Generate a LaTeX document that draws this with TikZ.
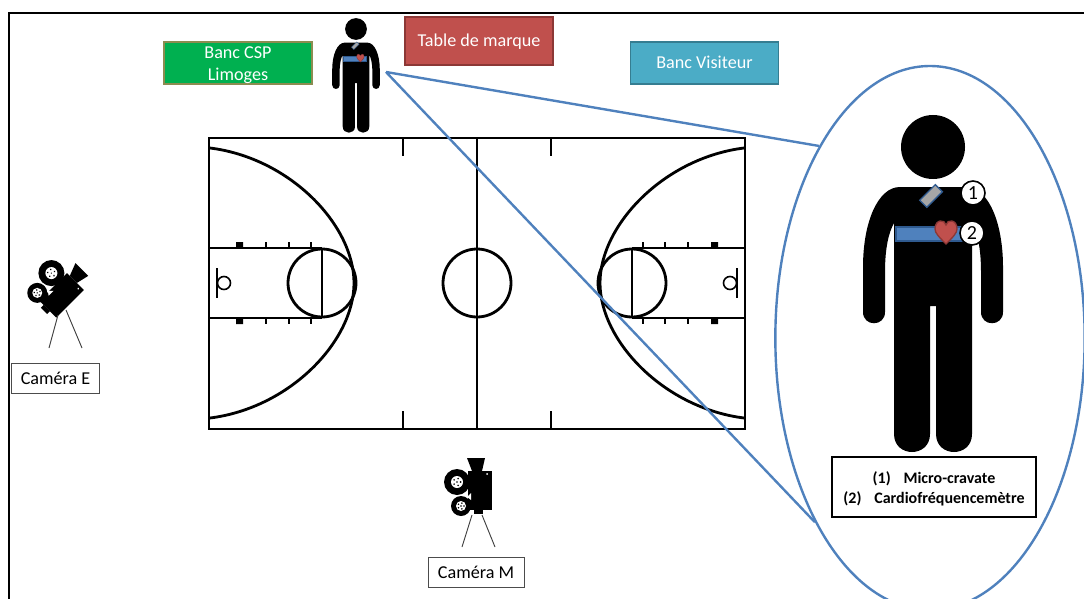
\documentclass[tikz,border=0pt]{standalone}
\usepackage{fontspec}
\setmainfont{Carlito}
\usetikzlibrary{shapes.geometric}
\definecolor{bleu}{HTML}{4F81BD}
\definecolor{bleufonce}{HTML}{2F5A8F}
\definecolor{rouge}{HTML}{C0504D}
\definecolor{rougefonce}{HTML}{8C3836}
\definecolor{vert}{HTML}{00B050}
\definecolor{olive}{HTML}{8C8C50}
\definecolor{turquoise}{HTML}{4BACC6}
\definecolor{turquoisefonce}{HTML}{357D91}
\tikzset{
  banc/.style = {draw, line width=1pt, inner ysep=0pt, minimum width=111pt, minimum height=31.5pt, align=center, text=white, font=\fontsize{13.6}{16.5}\selectfont},
  camlabel/.style = {draw=black!70, line width=.7pt, fill=white, minimum height=23pt, text height=9.5pt, text depth=1pt, font=\fontsize{13.6}{14}\selectfont},
  numero/.style = {draw, circle, fill=white, line width=1.2pt, inner sep=0pt, minimum size=18pt, font=\fontsize{15}{16}\selectfont},
  terrain/.style = {line width=2.1pt},
  tige/.style = {draw=black!75, line width=.7pt},
  loupeline/.style = {bleu, line width=1.8pt},
  personne/.pic = {
    \fill (0,0) circle (32);
    \fill (-33,40) .. controls (-55,40) and (-70,75) .. (-70,120) -- (-70,165)
      .. controls (-70,180) and (-48,180) .. (-48,165) -- (-48,125)
      .. controls (-48,100) and (-44,85) .. (-39,76) -- (-39,287)
      .. controls (-39,311) and (-3,311) .. (-3,287) -- (-3,159) -- (3,159) -- (3,287)
      .. controls (3,311) and (39,311) .. (39,287) -- (39,76)
      .. controls (44,85) and (48,100) .. (48,125) -- (48,165)
      .. controls (48,180) and (70,180) .. (70,165) -- (70,120)
      .. controls (70,75) and (55,40) .. (33,40) -- cycle;
    \filldraw[fill=bleu, draw=bleufonce] (-37,80) rectangle (30,94);
    \filldraw[fill=rouge, draw=rougefonce] (13,97) .. controls (6,90) and (2,86) .. (2,82)
      .. controls (2,72) and (12,72) .. (13,78) .. controls (14,72) and (24,72) .. (24,82)
      .. controls (24,86) and (20,90) .. (13,97) -- cycle;
    \filldraw[fill=black!35, draw=bleufonce, rotate around={45:(-2,49)}] (-13,44) rectangle (9,54);
  },
  camera/.pic = {
    \fill (-12,-19) rectangle (12,20);
    \fill (-13,-32) -- (5,-32) -- (2,-19) -- (-8,-19) -- cycle;
    \fill (-6,20) rectangle (3,24);
    \bobine{-23}{-8}{13}{6}
    \bobine{-19}{16}{10}{5}
    \fill[white] (-13,7) -- (-9,3) -- (-9,10) -- cycle;
    \fill[white] (7,-16) circle (1);
  },
}
\newcommand{\bobine}[4]{
  \fill (#1,#2) circle (#3);
  \fill[white] (#1,#2) circle (#4);
  \fill (#1,#2) circle (.8);
  \foreach \a in {0,72,...,288} \fill[shift={(#1,#2)}] (\a:#4*.6) circle (.9);
}
\begin{document}
\begin{tikzpicture}[x=.75pt,y=-.75pt]
\useasboundingbox (0,0) rectangle (1084,599);
\draw[line width=1.5pt] (9,599) -- (9,13) -- (1084,13);

% terrain
\draw[terrain] (209,138) rectangle (745,429);
\draw[terrain] (477,138) -- (477,429);
\draw[terrain] (477,283) circle (34);
\foreach \flip/\off in {1/0,-1/954} {
  \begin{scope}[cm={\flip,0,0,1,(\off,0)}]
    \draw[terrain] (210,148) .. controls (290,158) and (354,225) .. (354,283)
      .. controls (354,341) and (290,408) .. (210,418);
    \draw[terrain] (209,248) -- (322,248) (209,318) -- (322,318);
    \draw[terrain] (322,248) -- (322,318);
    \draw[terrain] (322,283) circle (34);
    \draw[terrain] (403,138) -- (403,156) (403,411) -- (403,429);
    \draw[line width=1.2pt] (217,268) -- (217,298);
    \draw[line width=1.2pt] (224,283) circle (6.5);
    \fill (236,242) rectangle (243,248) (236,318) rectangle (243,324);
    \foreach \xt in {266,289,311} \draw[line width=1pt] (\xt,242) -- (\xt,248) (\xt,318) -- (\xt,324);
  \end{scope}
}

% bancs
\node[banc, fill=vert, draw=olive] (csp) at (238,63) {\rule{0pt}{10pt}Banc CSP\\\smash{Limoges}};
\node[banc, fill=rouge, draw=rougefonce, minimum height=36pt, text height=10pt, text depth=1.5pt] (marque) at (479,41) {Table de marque};
\node[banc, fill=turquoise, draw=turquoisefonce, text height=10pt, text depth=1.5pt] (visiteur) at (704.5,63) {Banc Visiteur};

% joueur et loupe
\pic[scale=.34, line width=.3pt] at (356,29) {personne};
\pic[line width=1pt] at (933,147) {personne};
\coordinate (attache) at (386,72);
\node[draw=bleu, ellipse, line width=1.8pt, minimum width=232pt, minimum height=408pt] (loupe) at (930,338) {};
\draw[loupeline] (attache) -- (loupe.120);
\draw[loupeline] (attache) -- (loupe.238);
\node[numero] (un) at (973,193) {1};
\node[numero] (deux) at (972,233) {2};
\node[draw, line width=1.4pt, fill=white, inner ysep=0pt, minimum width=153pt, minimum height=45pt, align=center, font=\fontsize{12}{15}\selectfont\bfseries] (legende) at (934,487) {\rule{0pt}{11pt}(1)\hspace{.8em}Micro-cravate\\(2)\hspace{.8em}Cardiofréquencemètre};

% cameras
\pic[rotate=-45] at (62,295) {camera};
\draw[tige] (58,315) -- (49,348) (66,310) -- (82,348);
\node[camlabel, minimum width=66.5pt] (camE) at (55.5,378.5) {Caméra E};
\pic at (480,490) {camera};
\draw[tige] (472,515) -- (462,547) (482,515) -- (495,547);
\node[camlabel, minimum width=72pt] (camM) at (476,572.5) {Caméra M};
\end{tikzpicture}
\end{document}
